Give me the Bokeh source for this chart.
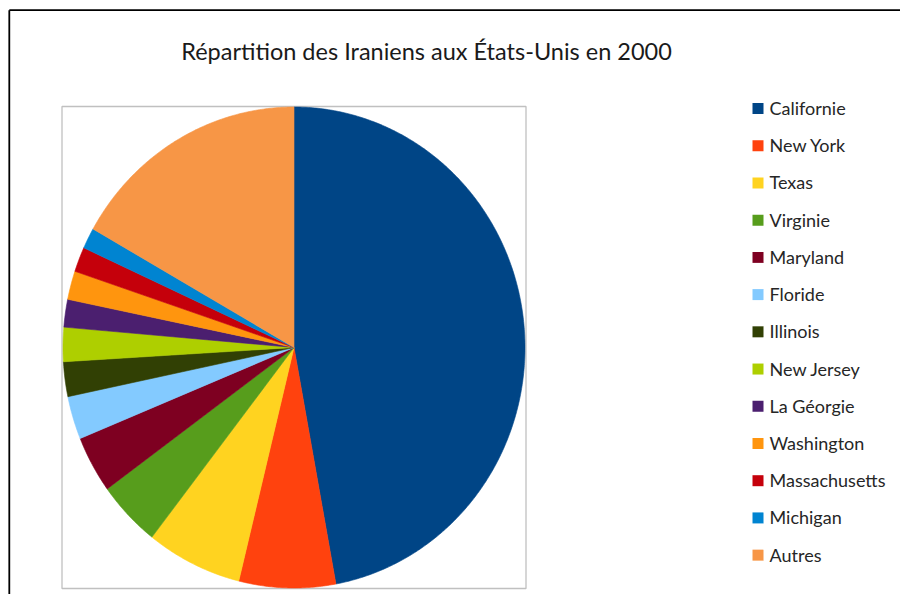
import numpy as np
from bokeh.plotting import figure
from bokeh.models import Range1d
from bokeh.embed import file_html
from bokeh.resources import INLINE
from bokeh.core.properties import value

# ---- data ----
states = ["Californie", "New York", "Texas", "Virginie", "Maryland", "Floride",
          "Illinois", "New Jersey", "La Géorgie", "Washington", "Massachusetts",
          "Michigan", "Autres"]
shares = [47.1, 6.75, 6.7, 4.45, 3.83, 2.9, 2.33, 2.3, 1.86, 1.92, 1.67, 1.4, 16.8]
colors = ["#004586", "#ff420e", "#ffd320", "#579d1c", "#7e0021", "#83caff",
          "#314004", "#aecf00", "#4b1f6f", "#ff950e", "#c5000b", "#0084d1", "#f79646"]
title_text = "Répartition des Iraniens aux États-Unis en 2000"

# ---- layout (page pixels) ----
W, H = 900, 594
OFF = 0
CX, CY = 293.5, 347.0      # pie centre on the page
RX, RY = 231.0, 240.5      # pie radii (px)


def X(px):
    return (px - CX) / RX


def Y(py):
    return (CY - py) / RY


p = figure(width=W, height=H, output_backend="svg", toolbar_location=None,
           x_range=Range1d(X(OFF), X(OFF + W)), y_range=Range1d(Y(OFF + H), Y(OFF)),
           min_border=0, min_border_left=0, min_border_right=0,
           min_border_top=0, min_border_bottom=0)
p.axis.visible = False
p.grid.visible = False
p.outline_line_color = None
p.background_fill_color = "white"
p.border_fill_color = "white"

# outer chart border (left and top)
p.line([X(8.8), X(8.8)], [Y(9.7), Y(700)], line_color="black", line_width=1.8)
p.line([X(8.8), X(1000)], [Y(9.7), Y(9.7)], line_color="black", line_width=1.8)

# plot-area box
p.quad(left=X(61.5), right=X(525.5), top=Y(106), bottom=Y(588),
       fill_color=None, line_color="#c0c0c0", line_width=1.3)

# pie slices, clockwise from 12 o'clock
fr = np.array(shares) / np.sum(shares)
ends = np.cumsum(fr) * 2 * np.pi
starts = ends - fr * 2 * np.pi
xs, ys = [], []
for a0, a1 in zip(starts, ends):
    n = max(4, int((a1 - a0) / (2 * np.pi) * 720))
    t = np.linspace(a0, a1, n)
    xs.append(np.concatenate([[0.0], np.sin(t)]).tolist())
    ys.append(np.concatenate([[0.0], np.cos(t)]).tolist())
p.patches(xs, ys, fill_color=colors, line_color=colors, line_width=0.6)

# title
p.text(x=[X(426)], y=[Y(50)], text=[title_text], text_align="center",
       text_baseline="alphabetic", text_font=value("Lato"),
       text_font_size="23.5px", text_color="#1a1a1a")

# legend
ly = [108 + i * 37.22 for i in range(len(states))]
p.scatter(x=[X(757.5)] * len(states), y=[Y(v) for v in ly], marker="square",
          size=11, fill_color=colors, line_color=None)
p.text(x=[X(769)] * len(states), y=[Y(v - 0.5) for v in ly], text=states,
       text_align="left", text_baseline="alphabetic", text_font=value("Lato"),
       text_font_size="18px", text_color="#262626")

open("out.html", "w").write(file_html(p, INLINE))
